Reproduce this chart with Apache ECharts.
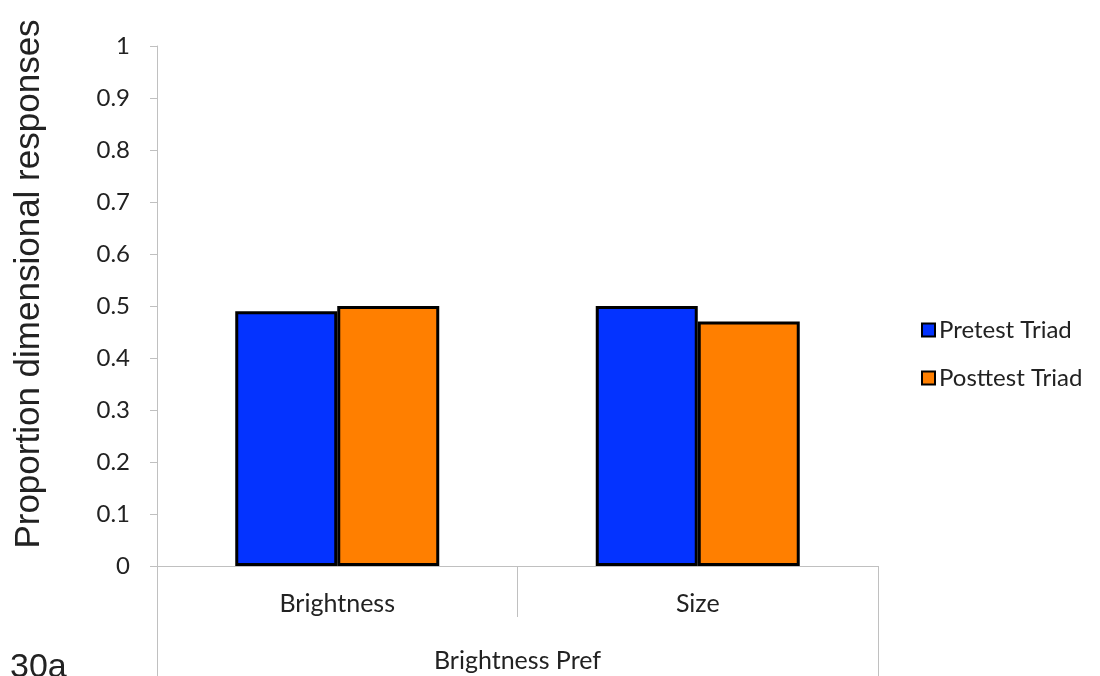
<!DOCTYPE html>
<html>
<head>
<meta charset="utf-8">
<script src="https://cdn.jsdelivr.net/npm/echarts@6/dist/echarts.min.js"></script>
<style>
  html, body { margin: 0; padding: 0; background: #fff; }
  #chart { width: 1100px; height: 676px; }
</style>
</head>
<body>
<div id="chart"></div>
<script>
// Data
const categories = ['Brightness', 'Size'];
const groupLabel = ['Brightness Pref'];
const pretest = [0.49, 0.5];
const posttest = [0.5, 0.47];
const seriesNames = ['Pretest Triad', 'Posttest Triad'];

const chart = echarts.init(document.getElementById('chart'));

const labelFont = 'Lato, "Open Sans", sans-serif';
const titleFont = '"Liberation Sans", Arial, sans-serif';

const option = {
    animation: false,
    grid: { left: 157, right: 222, top: 46, bottom: 110, containLabel: false },
    legend: {
        orient: 'vertical',
        left: 916,
        top: 313,
        itemWidth: 13,
        itemHeight: 13,
        itemGap: 24,
        icon: 'rect',
        textStyle: { fontFamily: labelFont, fontSize: 24, color: '#222', padding: [0, 0, 0, -1] },
        data: seriesNames
    },
    xAxis: [
        {
            type: 'category',
            data: categories,
            position: 'bottom',
            axisLine: { lineStyle: { color: '#c0c0c0', width: 1 } },
            axisTick: { show: true, length: 51, lineStyle: { color: '#c0c0c0' } },
            axisLabel: { fontFamily: labelFont, fontSize: 25, color: '#222', margin: 25 }
        },
        {
            type: 'category',
            data: groupLabel,
            position: 'bottom',
            axisLine: { show: false },
            axisTick: { show: true, length: 110, lineStyle: { color: '#c0c0c0' } },
            axisLabel: { fontFamily: labelFont, fontSize: 25, color: '#222', margin: 82 }
        }
    ],
    yAxis: {
        type: 'value',
        min: 0,
        max: 1,
        interval: 0.1,
        axisLine: { show: true, lineStyle: { color: '#c0c0c0' } },
        axisTick: { show: true, length: 7, lineStyle: { color: '#c0c0c0' } },
        splitLine: { show: false },
        axisLabel: { fontFamily: labelFont, fontSize: 24, color: '#222', margin: 27 }
    },
    graphic: [
        {
            type: 'text',
            x: 29,
            y: 284,
            rotation: Math.PI / 2,
            style: {
                text: 'Proportion dimensional responses',
                fontFamily: titleFont,
                fontSize: 35,
                fill: '#222',
                textAlign: 'center',
                textVerticalAlign: 'middle'
            }
        },
        {
            type: 'text',
            x: 10,
            y: 651,
            style: {
                text: '30a',
                fontFamily: titleFont,
                fontSize: 34,
                fill: '#222',
                textAlign: 'left',
                textVerticalAlign: 'top'
            }
        }
    ],
    series: [
        {
            name: seriesNames[0],
            type: 'bar',
            data: pretest,
            barWidth: 102,
            barGap: '0%',
            itemStyle: { color: '#0433ff', borderColor: '#000', borderWidth: 3 }
        },
        {
            name: seriesNames[1],
            type: 'bar',
            data: posttest,
            barWidth: 102,
            barGap: '0%',
            itemStyle: { color: '#ff7f00', borderColor: '#000', borderWidth: 3 }
        }
    ]
};

chart.setOption(option);
</script>
</body>
</html>
